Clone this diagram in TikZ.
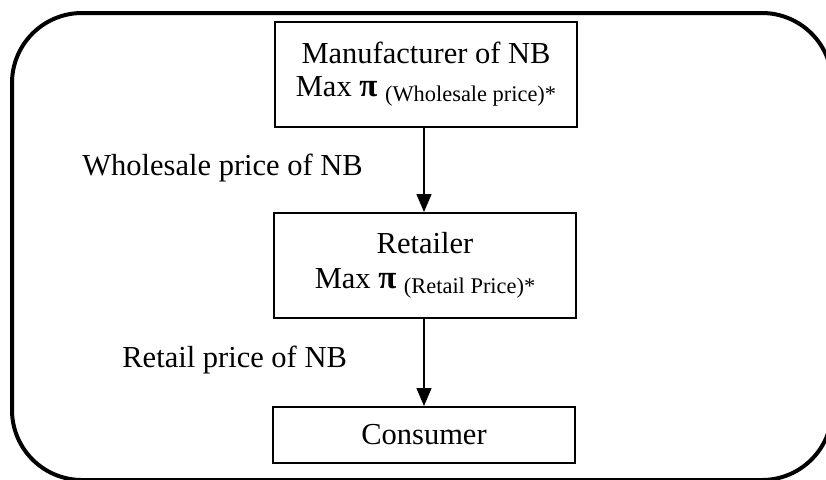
\documentclass[tikz,border=0pt]{standalone}
\usepackage{fontspec}
\setmainfont{Liberation Serif}
\usetikzlibrary{arrows.meta}
\newcommand{\objsub}[1]{\raisebox{-2.5pt}{\fontsize{11.2}{13}\selectfont #1}}
\newcommand{\profit}{{\fontsize{16.5}{16.5}\selectfont\bfseries π}}

\begin{document}
\begin{tikzpicture}[x=0.5pt,y=-0.5pt,
	stage/.style={draw,line width=1pt,minimum width=151pt,align=center,inner sep=0pt,font=\fontsize{15.25}{16.5}\selectfont},
	flow/.style={line width=0.75pt,-{Triangle[length=9pt,width=7.5pt]}},
	tag/.style={anchor=base west,inner sep=0pt,font=\fontsize{15.25}{16.5}\selectfont}]
	\useasboundingbox (0,0) rectangle (826,479);
	\begin{scope}
		\clip (0,0) rectangle (826,479);
		\draw[line width=2pt,rounded corners=35pt] (12,13) rectangle (832,480);
	\end{scope}
	\node[stage,minimum height=52.5pt] (mfr) at (426,74.5) {Manufacturer of NB\\Max \profit{} \objsub{(Wholesale price)*}};
	\node[stage,minimum height=52.5pt] (rtl) at (425,265.5) {Retailer\\[1pt]Max \profit{} \objsub{(Retail Price)*}};
	\node[stage,minimum height=28pt] (con) at (424,435) {Consumer};
	\node[tag] (wlab) at (82,175) {Wholesale price of NB};
	\node[tag] (rlab) at (122,367) {Retail price of NB};
	\draw[flow] (mfr.south -| con) -- (rtl.north -| con);
	\draw[flow] (rtl.south -| con) -- (con.north);
\end{tikzpicture}
\end{document}
